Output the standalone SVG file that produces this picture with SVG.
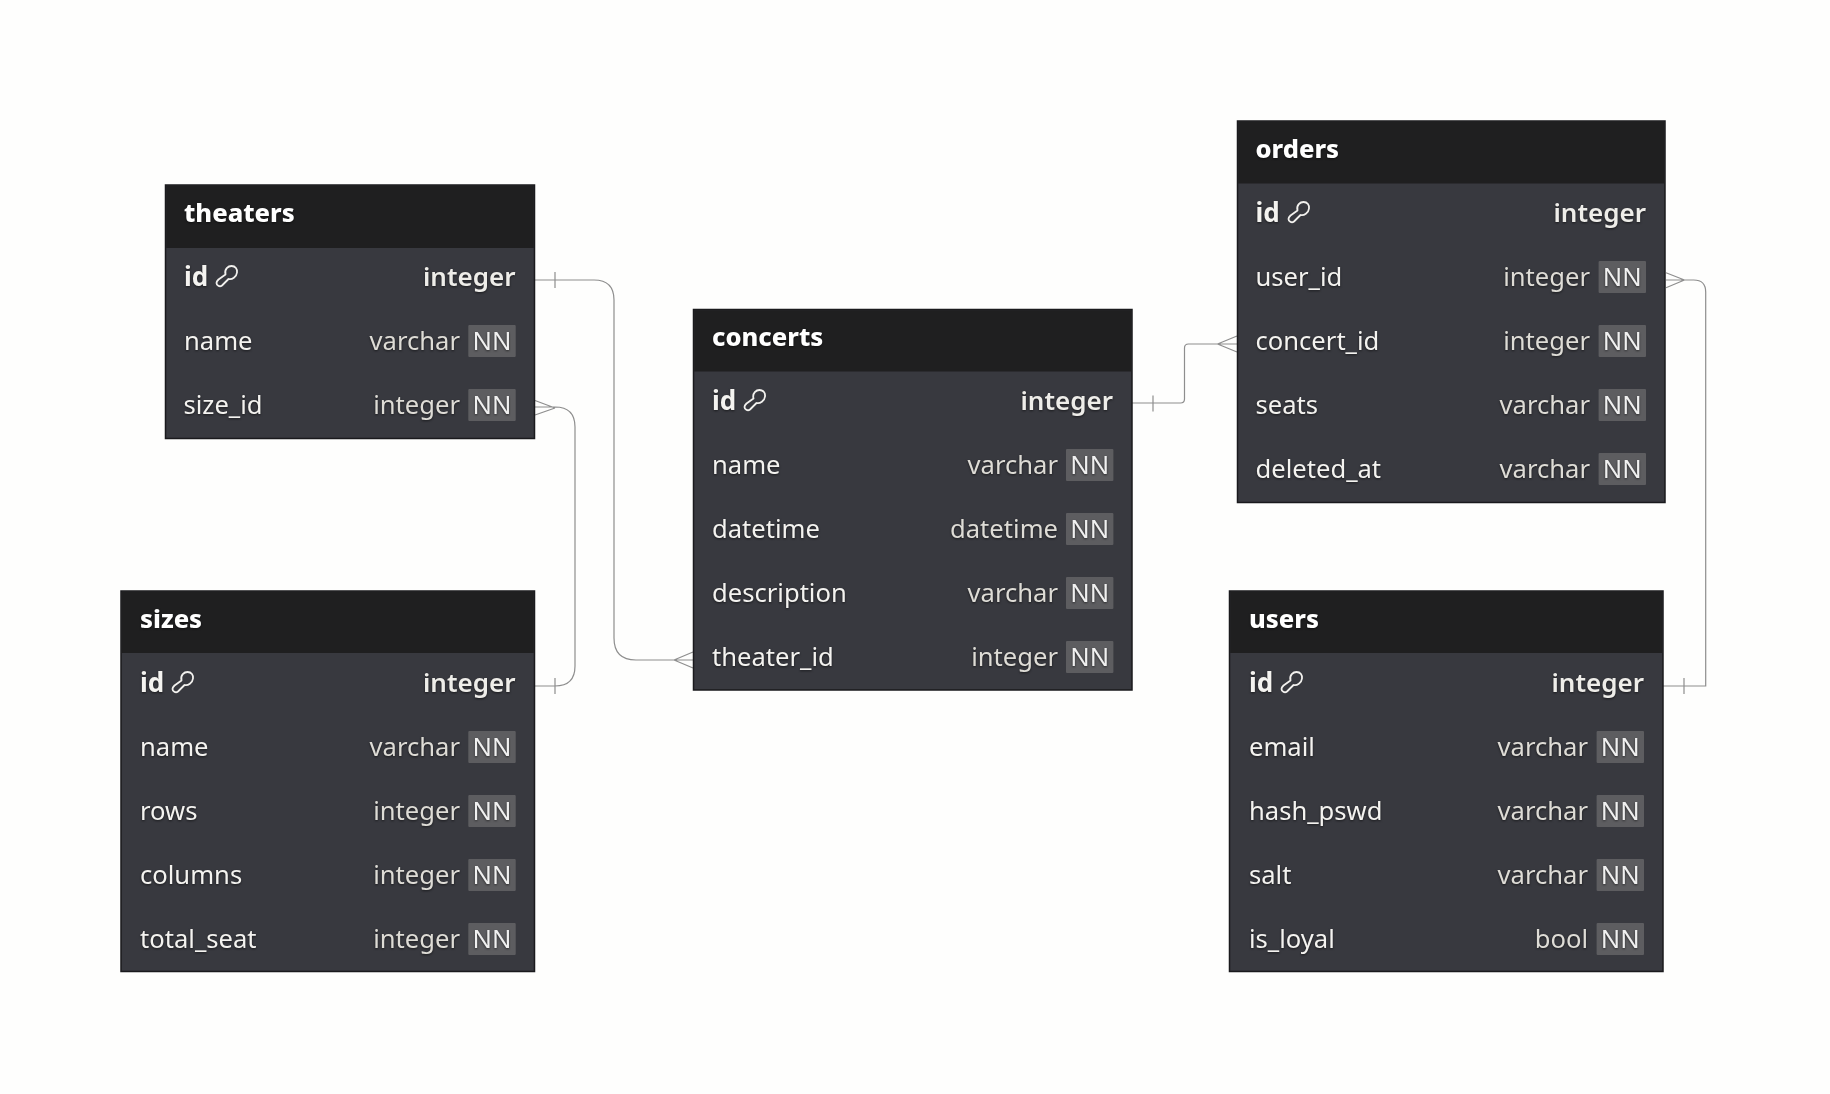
<svg xmlns="http://www.w3.org/2000/svg" width="1830" height="1094" viewBox="0 0 1830 1094">
<style>
text{font-family:"Noto Sans","Open Sans",sans-serif;font-size:25.6px;fill:#f4f3f0;filter:drop-shadow(0 1px 1px #0008);transform:translateY(.5px)}
.t{font-size:25.5px;font-weight:800;fill:#fff;transform:translateY(1px)}
.k{font-weight:700;font-size:26px}
.y{text-anchor:end;fill:#dedcd6}
.yk{text-anchor:end;font-weight:600;font-size:26px;fill:#eeede9}
.n{text-anchor:middle;fill:#f0f0f0}
.body{fill:#38393f;stroke:#1a1a1d;stroke-width:1.5}
.head{fill:#1f1f20}
.nn{fill:#5d5d60}
.c{fill:none;stroke:#8e8e8e;stroke-width:1.2}
.key{fill:none;stroke:#f2f1ee;stroke-width:1.8;stroke-linejoin:round}
</style>
<defs>
<path id="key" class="key" d="M9.500 8.500C8 3 12.500 0 15.500 0C19.500 0 21.500 3 21 6.500C20.500 11 16 14 12.500 13L6 19.500C4 21 0.500 20 0.500 17C0.500 15.500 1.500 14.500 2.500 13.500Z"/>
</defs>
<rect width="1830" height="1094" fill="#fefefd"/>
<g id="connectors">
<path class="c" d="M535 280H594Q614 280 614 300V638Q614 660 636 660H693M555 272V288M674 660L693 652M674 660L693 668"/>
<path class="c" d="M535 686H555Q575 686 575 666V427Q575 407 555 407H535M555 678V694M555 408L535 400.500M555 408L535 415"/>
<path class="c" d="M1132 403H1180.500Q1184.500 403 1184.500 399V348Q1184.500 344 1188.500 344H1237M1153 395.500V411.500M1217.500 344L1237 336M1217.500 344L1237 352"/>
<path class="c" d="M1663 686H1705.700V292Q1705.700 280 1693.700 280H1666M1684 678V694M1684.500 280L1666 272.700M1684.500 280L1666 287.700"/>
</g>
<g id="theaters">
<rect class="body" x="165.500" y="185" width="369" height="253.500"/>
<rect class="head" x="166.200" y="185.700" width="367.600" height="62.300"/>
<text class="t" x="184" y="221">theaters</text>
<text class="k" x="184" y="285">id</text><use href="#key" x="216" y="266"/><text class="yk" x="515.500" y="285">integer</text>
<text x="184" y="349">name</text><text class="y" x="460" y="349">varchar</text><rect class="nn" x="468.300" y="325" width="47.400" height="32" rx="1"/><text class="n" x="492" y="349">NN</text>
<text x="183.500" y="413">size_id</text><text class="y" x="460" y="413">integer</text><rect class="nn" x="468.300" y="389" width="47.400" height="32" rx="1"/><text class="n" x="492" y="413">NN</text>
</g>
<g id="sizes">
<rect class="body" x="121" y="591" width="413.500" height="380.500"/>
<rect class="head" x="121.700" y="591.700" width="412.100" height="61.300"/>
<text class="t" x="140" y="627">sizes</text>
<text class="k" x="140" y="691">id</text><use href="#key" x="172" y="672"/><text class="yk" x="515.500" y="691">integer</text>
<text x="140" y="755">name</text><text class="y" x="460" y="755">varchar</text><rect class="nn" x="468.300" y="731" width="47.400" height="32" rx="1"/><text class="n" x="492" y="755">NN</text>
<text x="140" y="819">rows</text><text class="y" x="460" y="819">integer</text><rect class="nn" x="468.300" y="795" width="47.400" height="32" rx="1"/><text class="n" x="492" y="819">NN</text>
<text x="140" y="883">columns</text><text class="y" x="460" y="883">integer</text><rect class="nn" x="468.300" y="859" width="47.400" height="32" rx="1"/><text class="n" x="492" y="883">NN</text>
<text x="140" y="947">total_seat</text><text class="y" x="460" y="947">integer</text><rect class="nn" x="468.300" y="923" width="47.400" height="32" rx="1"/><text class="n" x="492" y="947">NN</text>
</g>
<g id="concerts">
<rect class="body" x="693.500" y="309.500" width="438.500" height="380.500"/>
<rect class="head" x="694.200" y="310.200" width="437.100" height="61.300"/>
<text class="t" x="712" y="345">concerts</text>
<text class="k" x="712" y="409">id</text><use href="#key" x="744" y="390"/><text class="yk" x="1113" y="409">integer</text>
<text x="712" y="473">name</text><text class="y" x="1058" y="473">varchar</text><rect class="nn" x="1066" y="449" width="47.400" height="32" rx="1"/><text class="n" x="1089.700" y="473">NN</text>
<text x="712" y="537">datetime</text><text class="y" x="1058" y="537">datetime</text><rect class="nn" x="1066" y="513" width="47.400" height="32" rx="1"/><text class="n" x="1089.700" y="537">NN</text>
<text x="712" y="601">description</text><text class="y" x="1058" y="601">varchar</text><rect class="nn" x="1066" y="577" width="47.400" height="32" rx="1"/><text class="n" x="1089.700" y="601">NN</text>
<text x="712" y="665">theater_id</text><text class="y" x="1058" y="665">integer</text><rect class="nn" x="1066" y="641" width="47.400" height="32" rx="1"/><text class="n" x="1089.700" y="665">NN</text>
</g>
<g id="orders">
<rect class="body" x="1237.500" y="121" width="427.500" height="381.500"/>
<rect class="head" x="1238.200" y="121.700" width="426.100" height="61.800"/>
<text class="t" x="1255.500" y="157">orders</text>
<text class="k" x="1255.500" y="221">id</text><use href="#key" x="1288" y="202"/><text class="yk" x="1646" y="221">integer</text>
<text x="1255.500" y="285">user_id</text><text class="y" x="1590" y="285">integer</text><rect class="nn" x="1598.600" y="261" width="47.400" height="32" rx="1"/><text class="n" x="1622.300" y="285">NN</text>
<text x="1255.500" y="349">concert_id</text><text class="y" x="1590" y="349">integer</text><rect class="nn" x="1598.600" y="325" width="47.400" height="32" rx="1"/><text class="n" x="1622.300" y="349">NN</text>
<text x="1255.500" y="413">seats</text><text class="y" x="1590" y="413">varchar</text><rect class="nn" x="1598.600" y="389" width="47.400" height="32" rx="1"/><text class="n" x="1622.300" y="413">NN</text>
<text x="1255.500" y="477">deleted_at</text><text class="y" x="1590" y="477">varchar</text><rect class="nn" x="1598.600" y="453" width="47.400" height="32" rx="1"/><text class="n" x="1622.300" y="477">NN</text>
</g>
<g id="users">
<rect class="body" x="1229.500" y="591" width="433.500" height="380.500"/>
<rect class="head" x="1230.200" y="591.700" width="432.100" height="61.300"/>
<text class="t" x="1249" y="627">users</text>
<text class="k" x="1249" y="691">id</text><use href="#key" x="1281" y="672"/><text class="yk" x="1644" y="691">integer</text>
<text x="1249" y="755">email</text><text class="y" x="1588" y="755">varchar</text><rect class="nn" x="1596.600" y="731" width="47.400" height="32" rx="1"/><text class="n" x="1620.300" y="755">NN</text>
<text x="1249" y="819">hash_pswd</text><text class="y" x="1588" y="819">varchar</text><rect class="nn" x="1596.600" y="795" width="47.400" height="32" rx="1"/><text class="n" x="1620.300" y="819">NN</text>
<text x="1249" y="883">salt</text><text class="y" x="1588" y="883">varchar</text><rect class="nn" x="1596.600" y="859" width="47.400" height="32" rx="1"/><text class="n" x="1620.300" y="883">NN</text>
<text x="1249" y="947">is_loyal</text><text class="y" x="1588" y="947">bool</text><rect class="nn" x="1596.600" y="923" width="47.400" height="32" rx="1"/><text class="n" x="1620.300" y="947">NN</text>
</g>
</svg>
